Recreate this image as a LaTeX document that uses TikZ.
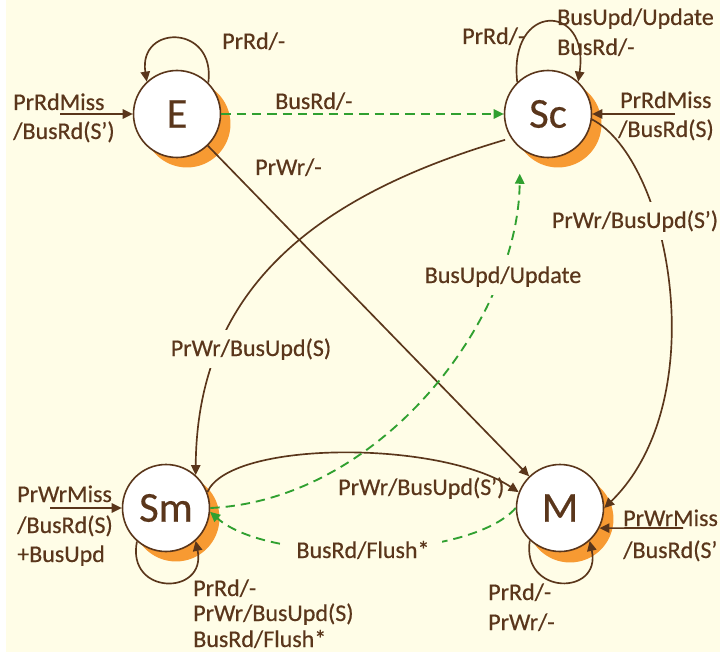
\documentclass[tikz,border=0pt]{standalone}
\usepackage{fontspec}
\setmainfont{Carlito}
\newfontfamily\lblfont{Carlito}[FakeBold=0.45]
\usetikzlibrary{arrows.meta}
\definecolor{bgc}{HTML}{FFFDE7}
\definecolor{brn}{HTML}{5A361B}
\definecolor{org}{HTML}{F79A32}
\definecolor{grn}{HTML}{30A030}
\begin{document}
\begin{tikzpicture}[x=0.75pt,y=-0.75pt,
  state/.style={circle,draw=brn,fill=white,line width=1.2pt,minimum size=65.25pt,inner sep=0pt,text=brn,font=\lblfont\fontsize{32}{32}\selectfont},
  lbl/.style={text=brn,font=\lblfont\fontsize{18}{20}\selectfont,inner sep=0pt,anchor=base west},
  lblf/.style={text=brn,font=\lblfont\fontsize{18}{20}\selectfont,inner xsep=3pt,inner ysep=6pt,anchor=base,fill=bgc},
  tr/.style={draw=brn,line width=1.25pt,-{Triangle[length=7.5pt,width=7pt]}},
  gtr/.style={draw=grn,line width=1.4pt,dash pattern=on 7pt off 4.5pt,-{Triangle[length=7.5pt,width=7pt]}},
  shad/.style={fill=org}
]
\fill[white] (0,0) rectangle (720,652);
\fill[bgc] (6,0) rectangle (720,652);
\useasboundingbox (0,0) rectangle (720,652);

% shadows
\fill[shad] (187,124) circle[radius=32.6pt];
\fill[shad] (558,124) circle[radius=32.6pt];
\fill[shad] (176,518) circle[radius=32.6pt];
\fill[shad] (570,519) circle[radius=32.6pt];

% states
\node[state] (E) at (177,114) {E};
\node[state] (Sc) at (548,114) {Sc};
\node[state] (Sm) at (166,508) {Sm};
\node[state] (M) at (560,508) {M};

% free ends
\coordinate (eIn) at (60,114);
\coordinate (scIn) at (675,114);
\coordinate (smIn) at (50,508);
\coordinate (mIn) at (683,528);

% incoming
\draw[tr] (eIn) -- (E.west);
\draw[tr] (scIn) -- (Sc.east);
\draw[tr] (smIn) -- (Sm.west);
\draw[tr] (mIn) -- (M.-27);

% loops
\draw[tr] (E.45) .. controls (216,24) and (138,24) .. (E.133);
\draw[tr] (Sc.134) .. controls (508,2) and (590,2) .. (Sc.47);
\draw[tr] (Sm.-131) .. controls (126,596) and (207,596) .. (Sm.-48);
\draw[tr] (M.-133) .. controls (521,596) and (602,596) .. (M.-48);

% transitions
\draw[gtr] (E.east) -- (Sc.west);
\draw[tr] (E) -- (M);
\draw[tr,shorten <=4.5pt] (Sc.213) .. controls (300,200) and (197,300) .. (Sm.48);
\draw[tr] (Sc.-7) .. controls (670,160) and (715,400) .. (M.east);
\draw[tr] (Sm.21) .. controls (230,440) and (440,440) .. (M.159);
\draw[gtr,shorten >=19pt] (Sm.east) .. controls (380,500) and (518,320) .. (Sc.231);
\draw[gtr] (M.west) .. controls (470,560) and (270,565) .. (Sm.-5);

% labels
\node[lbl] (l1) at (222,49) {PrRd/-};
\node[lbl] (l2) at (13,110) {PrRdMiss};
\node[lbl] (l3) at (13,139) {/BusRd(S’)};
\node[lbl] (l4) at (275,109) {BusRd/-};
\node[lbl] (l5) at (255,175) {PrWr/-};
\node[lbl] (l6) at (462,44) {PrRd/-};
\node[lbl] (l7) at (557,25) {BusUpd/Update};
\node[lbl] (l8) at (557,55) {BusRd/-};
\node[lbl] (l9) at (620,108) {PrRdMiss};
\node[lbl] (l10) at (618,137) {/BusRd(S)};
\node[lblf] (l11) at (635,228) {PrWr/BusUpd(S’)};
\node[lblf] (l12) at (503,283) {BusUpd/Update};
\node[lblf] (l13) at (251,356) {PrWr/BusUpd(S)};
\node[lbl] (l14) at (338,495) {PrWr/BusUpd(S’)};
\node[lblf,inner xsep=9pt,inner ysep=3pt] (l15) at (363,558) {BusRd/Flush*};
\node[lbl] (l16) at (17,502) {PrWrMiss};
\node[lbl] (l17) at (17,533) {/BusRd(S)};
\node[lbl] (l18) at (17,562) {+BusUpd};
\node[lbl] (l19) at (193,596) {PrRd/-};
\node[lbl] (l20) at (193,621) {PrWr/BusUpd(S)};
\node[lbl] (l21) at (193,647) {BusRd/Flush*};
\node[lbl] (l22) at (488,600) {PrRd/-};
\node[lbl] (l23) at (488,630) {PrWr/-};
\node[lbl] (l24) at (623,526) {PrWrMiss};
\node[lbl] (l25) at (623,558) {/BusRd(S’};
\end{tikzpicture}
\end{document}
